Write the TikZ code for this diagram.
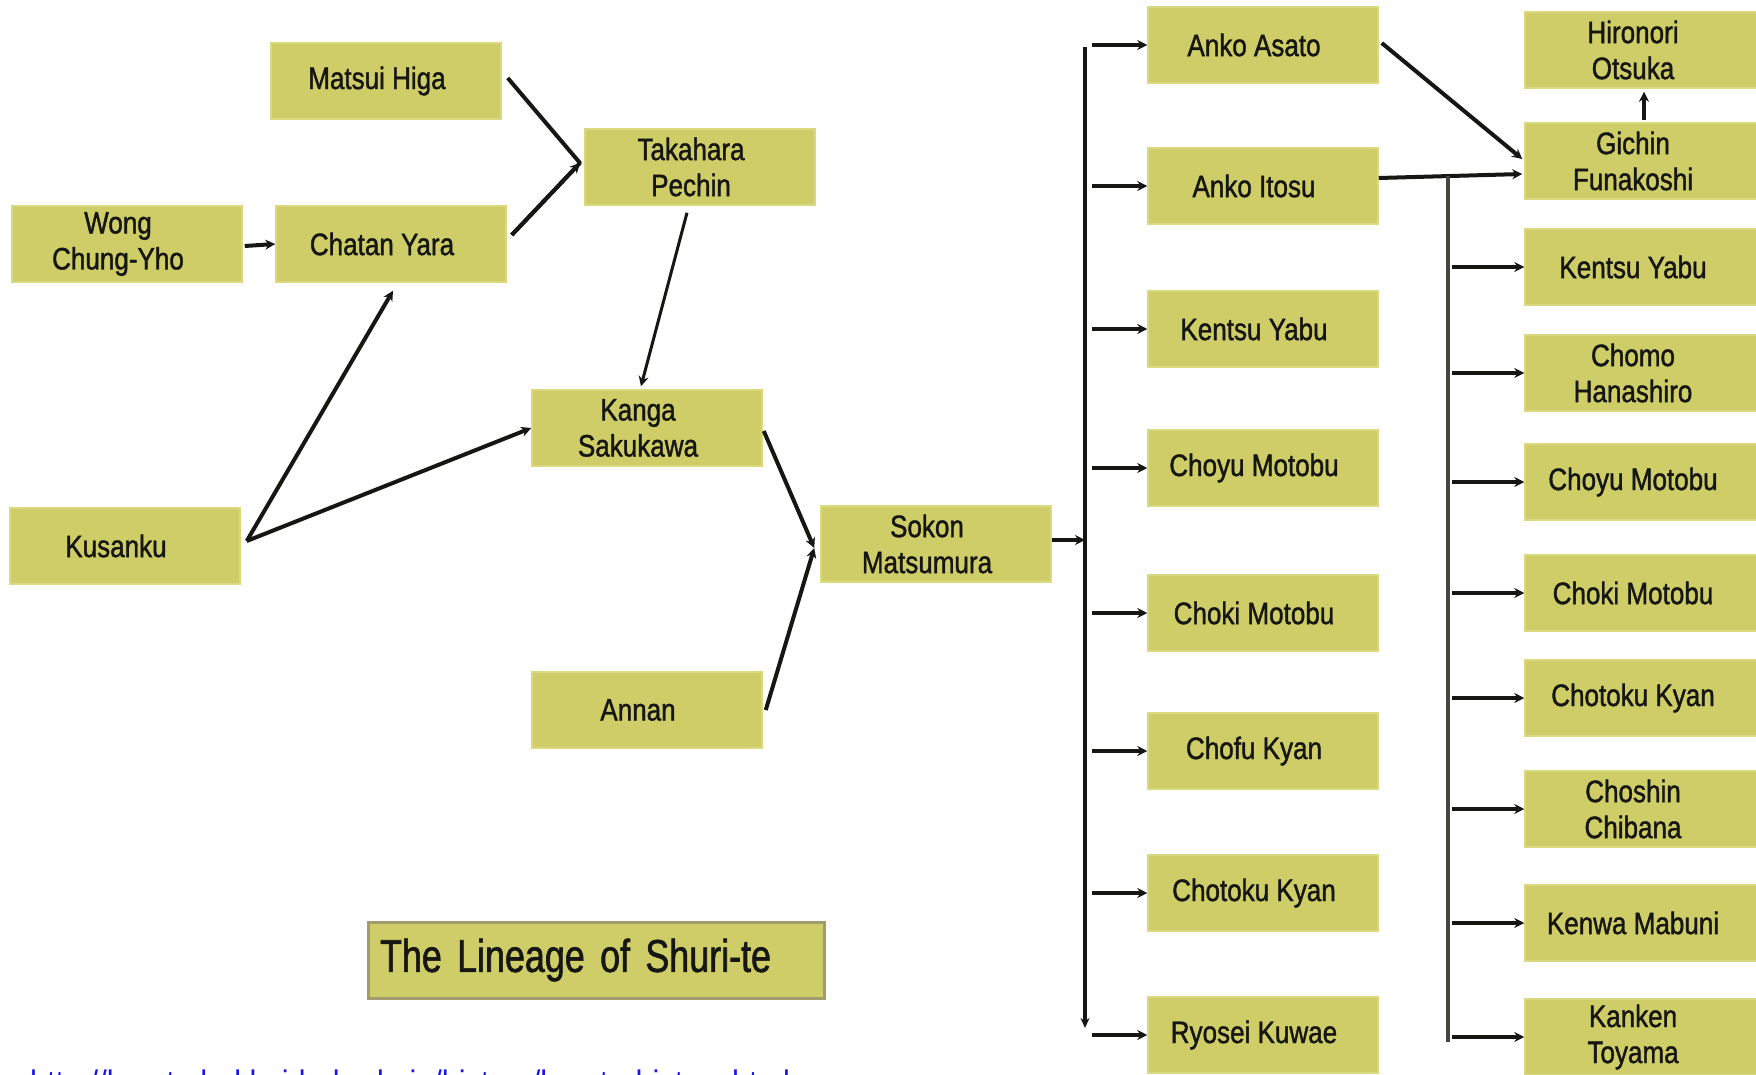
\documentclass[tikz,border=0pt]{standalone}
\usepackage{fontspec}
\setmainfont{Liberation Sans}[FakeStretch=0.84,FakeBold=1.3]
\newfontfamily\urlfont{Liberation Sans}[FakeStretch=0.9]
\newfontfamily\titlefont{Liberation Sans}[FakeStretch=0.78,FakeBold=1.3]
\usetikzlibrary{arrows.meta,calc}
\definecolor{boxfill}{RGB}{206,205,104}
\definecolor{boxedge}{RGB}{218,217,130}
\definecolor{titleedge}{RGB}{160,156,110}
\definecolor{ink}{RGB}{22,22,18}
\definecolor{urlblue}{RGB}{20,20,235}
% box with its text set slightly left of centre, as in the reference
\newcommand\lbox[5][box]{%
  \node[#1] (#2) at (#3,#4) {};
  \node[boxtxt] (#2-t) at ($(#2.center)+(-9,0)$) {#5};}
\begin{document}
\begin{tikzpicture}[x=1pt,y=-1pt,
  box/.style={fill=boxfill,draw=boxedge,line width=1.5pt,minimum width=230pt,minimum height=76pt,inner sep=0pt},
  rbox/.style={box,minimum width=234pt},
  boxtxt/.style={inner sep=0pt,align=center,text=ink,font=\fontsize{31}{36}\selectfont},
  conn/.style={draw=ink,line width=4pt},
  arr/.style={conn,-{Stealth[length=10pt,width=10pt]}},
  trunk/.style={draw=ink,line width=3.2pt},
  titlebox/.style={fill=boxfill,draw=titleedge,line width=3pt,minimum width=456pt,minimum height=76pt,
    text width=432pt,align=left,inner xsep=12pt,text=ink,font=\titlefont\fontsize{46}{50}\selectfont}]
\useasboundingbox (0,0) rectangle (1756,1074);

% left part
\lbox{matsui}{386}{81}{Matsui Higa}
\lbox{takahara}{700}{167}{Takahara\\Pechin}
\lbox{wong}{127}{244}{Wong\\Chung-Yho}
\lbox{chatan}{391}{244}{Chatan Yara}
\lbox{kanga}{647}{428}{Kanga\\Sakukawa}
\lbox{kusanku}{125}{546}{Kusanku}
\lbox{sokon}{936}{544}{Sokon\\Matsumura}
\lbox{annan}{647}{710}{Annan}
\node[titlebox] (title) at (596,960) {The Lineage of Shuri-te};

% middle column
\lbox{asato}{1263}{45}{Anko Asato}
\lbox{itosu}{1263}{186}{Anko Itosu}
\lbox{yabuA}{1263}{329}{Kentsu Yabu}
\lbox{choyuA}{1263}{468}{Choyu Motobu}
\lbox{chokiA}{1263}{613}{Choki Motobu}
\lbox{chofu}{1263}{751}{Chofu Kyan}
\lbox{chotokuA}{1263}{893}{Chotoku Kyan}
\lbox{ryosei}{1263}{1035}{Ryosei Kuwae}

% right column
\lbox[rbox]{otsuka}{1642}{50}{Hironori\\Otsuka}
\lbox[rbox]{funakoshi}{1642}{161}{Gichin\\Funakoshi}
\lbox[rbox]{yabuB}{1642}{267}{Kentsu Yabu}
\lbox[rbox]{hanashiro}{1642}{373}{Chomo\\Hanashiro}
\lbox[rbox]{choyuB}{1642}{482}{Choyu Motobu}
\lbox[rbox]{chokiB}{1642}{593}{Choki Motobu}
\lbox[rbox]{chotokuB}{1642}{698}{Chotoku Kyan}
\lbox[rbox]{chibana}{1642}{809}{Choshin\\Chibana}
\lbox[rbox]{mabuni}{1642}{923}{Kenwa Mabuni}
\lbox[rbox]{toyama}{1642}{1037}{Kanken\\Toyama}

% URL (cut off by the page edge, as in the reference)
\node[anchor=base west,inner sep=0pt,text=urlblue,font=\urlfont\fontsize{34}{38}\selectfont] (url) at (30,1094)
  {http://karate.hokkaido-budo.jp/history/karate-history.html};

% left connectors
\coordinate (tkjoin) at (580,163);
\draw[conn,line join=round] ($(matsui.east)+(6,-3)$) -- (tkjoin) -- ($(chatan.east)+(5,-9)$);
\draw[arr] ($(chatan.east)+(5,-9)$) -- (tkjoin);
\draw[arr] ($(wong.east)+(2,2)$) -- (chatan.west);
\draw[arr,line width=3pt] ($(takahara.south)+(-13,7)$) -- ($(kanga.north)+(-6,-3)$);
\coordinate (kusj) at ($(kusanku.east)+(6,-5)$);
\draw[arr] (kusj) -- ($(chatan.south)+(2,8)$);
\draw[arr] (kusj) -- (kanga.west);
\coordinate (sokj) at ($(sokon.west)+(-6,4)$);
\draw[arr] ($(kanga.east)+(1,3)$) -- (sokj);
\draw[arr] ($(annan.east)+(3,0)$) -- (sokj);

% trunk 1
\coordinate (t1top) at (1085,47);
\coordinate (t1bot) at (1085,1028);
\coordinate (t1mid) at (1085,540);
\draw[arr] (sokon.east |- t1mid) -- (t1mid);
\draw[trunk,-{Stealth[length=10pt,width=9pt]}] (t1top) -- (t1bot);
\coordinate (b1) at (1092,0);
\foreach \n in {asato,itosu,yabuA,choyuA,chokiA,chofu,chotokuA,ryosei}
  \draw[arr] (\n.west -| b1) -- (\n.west);

% to Funakoshi
\draw[arr] ($(asato.east)+(3,-2)$) -- ($(funakoshi.west)+(-2,-2)$);
\coordinate (t2top) at (1448,176);
\coordinate (t2bot) at (1448,1042);
\draw[arr] ($(itosu.east)+(0,-8)$) -- ($(funakoshi.west)+(-2,13)$);
\draw[trunk,draw=ink!80] (t2top) -- (t2bot);
\coordinate (b2) at (1452,0);
\foreach \n in {yabuB,hanashiro,choyuB,chokiB,chotokuB,chibana,mabuni,toyama}
  \draw[arr] (\n.west -| b2) -- (\n.west);
\draw[arr] ($(funakoshi.north)+(2,-2)$) -- ($(otsuka.south)+(2,3)$);
\end{tikzpicture}
\end{document}
